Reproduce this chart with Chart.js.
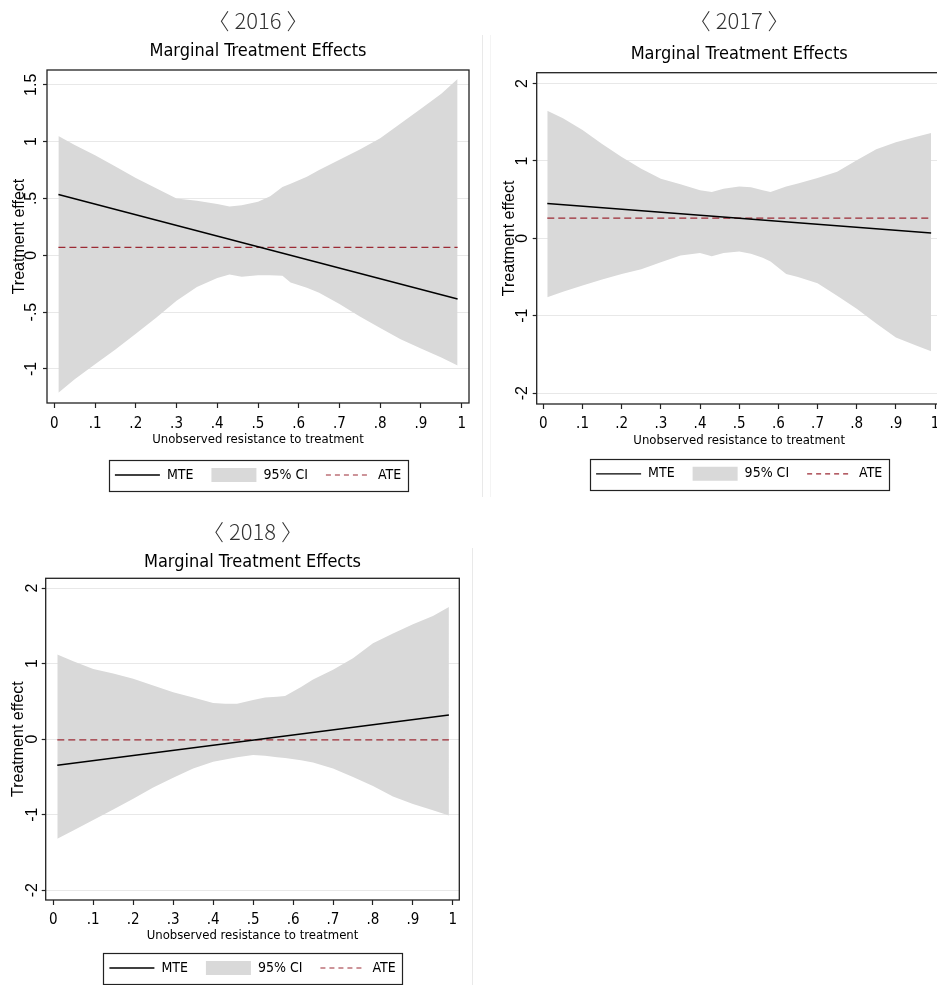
<!DOCTYPE html>
<html>
<head>
<meta charset="utf-8">
<script src="https://cdn.jsdelivr.net/npm/chart.js@4.4.1/dist/chart.umd.min.js"></script>
<style>
html,body{margin:0;padding:0;background:#fff;overflow:hidden;width:937px;height:985px;}
.panel{position:absolute;overflow:hidden;}
.panel canvas{display:block;}
.sep{position:absolute;width:1px;background:#e9e9e9;}
</style>
</head>
<body>
<div class="sep" style="left:482px;top:35px;height:462px"></div>
<div class="sep" style="left:490px;top:35px;height:462px;background:#f4f4f4"></div>
<div class="sep" style="left:472px;top:548px;height:437px"></div>
<div class="panel" style="left:0;top:0;width:475px;height:497px"><canvas id="c2016" width="475" height="497"></canvas></div>
<div class="panel" style="left:480px;top:0;width:457px;height:497px"><canvas id="c2017" width="470" height="497"></canvas></div>
<div class="panel" style="left:0;top:497px;width:475px;height:488px"><canvas id="c2018" width="475" height="489"></canvas></div>
<script>
// ---------------- data ----------------
const headers = ['〈 2016 〉', '〈 2017 〉', '〈 2018 〉'];
const chartTitle = 'Marginal Treatment Effects';
const xTitle = 'Unobserved resistance to treatment';
const yTitle = 'Treatment effect';
const seriesNames = ['MTE', '95% CI', 'ATE'];

// x positions where the CI band was read
const ciX = [0.01,0.05,0.1,0.15,0.2,0.25,0.3,0.35,0.4,0.43,0.46,0.5,0.53,0.56,0.58,0.62,0.65,0.7,0.75,0.8,0.85,0.9,0.95,0.99];
// MTE line end points (straight line)
const mteX = [0.01, 0.99];

const upper2016 = [1.05,0.97,0.88,0.78,0.68,0.59,0.50,0.48,0.45,0.43,0.44,0.47,0.52,0.60,0.63,0.69,0.75,0.84,0.93,1.03,1.16,1.29,1.42,1.55];
const lower2016 = [-1.21,-1.09,-0.96,-0.83,-0.69,-0.55,-0.40,-0.28,-0.20,-0.17,-0.19,-0.175,-0.175,-0.18,-0.24,-0.285,-0.33,-0.43,-0.54,-0.64,-0.74,-0.82,-0.90,-0.97];
const mte2016 = [0.535, -0.385];
const ate2016 = 0.07;

const upper2017 = [1.65,1.55,1.40,1.22,1.05,0.90,0.77,0.70,0.62,0.60,0.64,0.67,0.66,0.62,0.60,0.67,0.71,0.78,0.86,1.01,1.15,1.24,1.31,1.36];
const lower2017 = [-0.76,-0.69,-0.61,-0.53,-0.46,-0.40,-0.31,-0.22,-0.19,-0.23,-0.19,-0.17,-0.20,-0.25,-0.30,-0.46,-0.50,-0.58,-0.74,-0.91,-1.10,-1.28,-1.38,-1.46];
const mte2017 = [0.45, 0.07];
const ate2017 = 0.26;

const upper2018 = [1.12,1.03,0.93,0.87,0.80,0.71,0.62,0.55,0.48,0.47,0.47,0.52,0.55,0.56,0.57,0.69,0.79,0.92,1.07,1.27,1.40,1.52,1.63,1.75];
const lower2018 = [-1.32,-1.21,-1.07,-0.93,-0.79,-0.64,-0.51,-0.39,-0.30,-0.27,-0.24,-0.21,-0.22,-0.24,-0.25,-0.28,-0.31,-0.39,-0.50,-0.62,-0.76,-0.86,-0.94,-1.01];
const mte2018 = [-0.345, 0.32];
const ate2018 = -0.01;

const xTickValues = [0,0.1,0.2,0.3,0.4,0.5,0.6,0.7,0.8,0.9,1];
const xTickLabels = ['0','.1','.2','.3','.4','.5','.6','.7','.8','.9','1'];
const yTicks2016 = [-1,-0.5,0,0.5,1,1.5];
const yTickLabels2016 = ['-1','-.5','0','.5','1','1.5'];
const yTicks1718 = [-2,-1,0,1,2];
const yTickLabels1718 = ['-2','-1','0','1','2'];

// ---------------- styling ----------------
const NARROW = "'Liberation Sans Narrow', 'DejaVu Sans Condensed', sans-serif";
const SANS = "'Liberation Sans', Arial, sans-serif";
const CJK = "'Noto Sans CJK SC', 'Noto Sans', sans-serif";
const CI_COLOR = '#d9d9d9';
const ATE_COLOR = '#9c2a34';
const FRAME_COLOR = '#222';

const framePlugin = {
  id: 'frame',
  afterDatasetsDraw(chart) {
    const {ctx, chartArea: a} = chart;
    ctx.save();
    ctx.strokeStyle = FRAME_COLOR;
    ctx.lineWidth = 1.3;
    ctx.strokeRect(a.left, a.top, a.right - a.left, a.bottom - a.top);
    ctx.restore();
  }
};
const legendBoxPlugin = {
  id: 'legendBox',
  afterDraw(chart) {
    const hb = chart.legend && chart.legend.legendHitBoxes;
    if (!hb || !hb.length) return;
    const l = Math.min(...hb.map(h => h.left)) - 6;
    const r = Math.max(...hb.map(h => h.left + h.width)) + 7;
    const t = hb[0].top - 8;
    const b = hb[0].top + hb[0].height + 9;
    const ctx = chart.ctx;
    ctx.save();
    ctx.strokeStyle = FRAME_COLOR;
    ctx.lineWidth = 1.2;
    ctx.strokeRect(Math.round(l) + 0.5, Math.round(t) + 0.5, Math.round(r - l), Math.round(b - t));
    ctx.restore();
  }
};

function makeChart(id, s) {
  const pts = (xs, ys) => xs.map((x, i) => ({x, y: ys[i]}));
  const ends = [ciX[0], ciX[ciX.length - 1]];
  const cfg = {
    type: 'line',
    data: {
      datasets: [
        {label: seriesNames[0], data: pts(mteX, s.mte), borderColor: '#000', borderWidth: 1.4, pointRadius: 0, fill: false, tension: 0},
        {label: seriesNames[2], data: pts(ends, [s.ate, s.ate]), borderColor: ATE_COLOR, borderWidth: 1.3, borderDash: [7, 4], pointRadius: 0, fill: false},
        {label: 'upper', data: pts(ciX, s.upper), borderColor: 'rgba(0,0,0,0)', borderWidth: 0, pointRadius: 0, fill: false},
        {label: seriesNames[1], data: pts(ciX, s.lower), borderColor: 'rgba(0,0,0,0)', borderWidth: 0, pointRadius: 0, backgroundColor: CI_COLOR, fill: '-1'}
      ]
    },
    options: {
      responsive: false,
      animation: false,
      devicePixelRatio: 1,
      events: [],
      layout: {padding: {left: 4, right: s.padRight, top: 0, bottom: s.padBottom}},
      scales: {
        x: {
          type: 'linear', min: s.xMin, max: s.xMax,
          afterBuildTicks: sc => { sc.ticks = xTickValues.map(v => ({value: v})); },
          afterFit: sc => { sc.height = s.xAxisH; },
          ticks: {autoSkip: false, minRotation: 0, maxRotation: 0, padding: s.xTickPad, color: '#000',
                  font: {family: NARROW, size: 15, lineHeight: 1.2}, callback: (v, i) => xTickLabels[i]},
          grid: {drawOnChartArea: false, drawTicks: true, tickLength: 5, tickColor: FRAME_COLOR, tickWidth: 1.2},
          border: {display: false},
          title: {display: true, text: xTitle, color: '#000', font: {family: NARROW, size: 13, lineHeight: 1},
                  padding: {top: 0, bottom: s.xTitlePad}}
        },
        y: {
          type: 'linear', min: s.yMin, max: s.yMax,
          afterBuildTicks: sc => { sc.ticks = s.yTicks.map(v => ({value: v})); },
          afterFit: sc => { sc.width = s.yAxisW; },
          ticks: {autoSkip: false, minRotation: 90, maxRotation: 90, crossAlign: 'center', padding: s.yTickPad,
                  color: '#000', font: {family: SANS, size: 16}, callback: (v, i) => s.yLabels[i]},
          grid: {color: '#e8e8e8', lineWidth: 1, drawTicks: true, tickLength: 4, tickColor: FRAME_COLOR, tickWidth: 1.2},
          border: {display: false},
          title: {display: true, text: yTitle, color: '#000', font: {family: SANS, size: 16, lineHeight: 1},
                  padding: {top: s.yTitlePad, bottom: 0}}
        }
      },
      plugins: {
        title: {display: true, text: s.header, fullSize: false, color: '#333',
                font: {family: CJK, size: 22, weight: 300, lineHeight: 1.2},
                padding: {top: s.headTop, bottom: s.headBottom}},
        subtitle: {display: true, text: chartTitle, fullSize: false, color: '#000',
                   font: {family: NARROW, size: 18, weight: 'normal', lineHeight: 1.2},
                   padding: {top: 0, bottom: s.subBottom}},
        legend: {
          display: true, position: 'bottom', fullSize: false,
          labels: {
            usePointStyle: true, pointStyleWidth: 45, boxWidth: 45, boxHeight: 15, padding: 18,
            color: '#000', font: {family: NARROW, size: 14},
            generateLabels: () => [
              {text: seriesNames[0], pointStyle: 'line', strokeStyle: '#000', fillStyle: '#000', lineWidth: 1.3, datasetIndex: 0, hidden: false, fontColor: '#000'},
              {text: seriesNames[1], pointStyle: 'rect', strokeStyle: CI_COLOR, fillStyle: CI_COLOR, lineWidth: 0, datasetIndex: 3, hidden: false, fontColor: '#000'},
              {text: seriesNames[2], pointStyle: 'line', strokeStyle: ATE_COLOR, fillStyle: ATE_COLOR, lineWidth: 1.2, lineDash: [5, 4], datasetIndex: 1, hidden: false, fontColor: '#000'}
            ]
          }
        },
        tooltip: {enabled: false}
      }
    },
    plugins: [framePlugin, legendBoxPlugin]
  };
  return new Chart(document.getElementById(id), cfg);
}

makeChart('c2016', {
  header: headers[0], upper: upper2016, lower: lower2016, mte: mte2016, ate: ate2016,
  yTicks: yTicks2016, yLabels: yTickLabels2016, yMin: -1.30, yMax: 1.63, xMin: -0.018, xMax: 1.018,
  padRight: 6, padBottom: 5, xAxisH: 47, xTickPad: 7.2, xTitlePad: 3.5,
  yAxisW: 43, yTickPad: 0, yTitlePad: 8,
  headTop: 7.8, headBottom: 6.7, subBottom: 7.5
});
makeChart('c2017', {
  header: headers[1], upper: upper2017, lower: lower2017, mte: mte2017, ate: ate2017,
  yTicks: yTicks1718, yLabels: yTickLabels1718, yMin: -2.14, yMax: 2.14, xMin: -0.017, xMax: 1.017,
  padRight: 8.3, padBottom: 6.2, xAxisH: 44.8, xTickPad: 6.2, xTitlePad: 1.6,
  yAxisW: 52.7, yTickPad: 3.1, yTitlePad: 18,
  headTop: 7.0, headBottom: 10, subBottom: 7.7
});
makeChart('c2018', {
  header: headers[2], upper: upper2018, lower: lower2018, mte: mte2018, ate: ate2018,
  yTicks: yTicks1718, yLabels: yTickLabels1718, yMin: -2.13, yMax: 2.13, xMin: -0.019, xMax: 1.016,
  padRight: 15.7, padBottom: 1, xAxisH: 43, xTickPad: 6, xTitlePad: 0.5,
  yAxisW: 41.7, yTickPad: 2.1, yTitlePad: 7,
  headTop: 21.3, headBottom: 7, subBottom: 5
});
</script>
</body>
</html>
